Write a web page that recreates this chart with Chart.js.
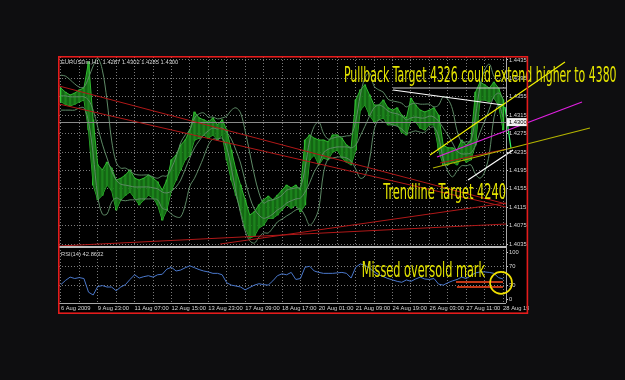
<!DOCTYPE html>
<html><head><meta charset="utf-8">
<script src="https://cdn.jsdelivr.net/npm/chart.js@4.4.0/dist/chart.umd.min.js"></script>
<style>
html,body{margin:0;padding:0;background:#0e0e10;width:625px;height:380px;overflow:hidden}
#wrap{position:relative;width:625px;height:380px}
canvas{position:absolute;left:0;top:0}
</style></head><body>
<div id="wrap">
<canvas id="main" width="625" height="380" style="width:625px;height:380px"></canvas>
<canvas id="rsiC" width="529" height="380" style="width:529px;height:380px"></canvas>
</div>
<script>
// ---------- DATA ----------
const symbolTitle = 'EURUSDm,H1';
const lastBar = [1.4287, 1.4302, 1.4285, 1.4300]; // O H L C
const rsiTitle = 'RSI(14)';
const rsiLast = 42.8632;
const STEP = 4; // H1 bars per sample
const timeLabels = ['6 Aug 2009','9 Aug 23:00','11 Aug 07:00','12 Aug 15:00','13 Aug 23:00','17 Aug 09:00','18 Aug 17:00','20 Aug 01:00','21 Aug 09:00','24 Aug 19:00','26 Aug 03:00','27 Aug 11:00','28 Aug 19:00'];
const priceTicks = [1.4035,1.4075,1.4115,1.4155,1.4195,1.4235,1.4275,1.4315,1.4355,1.4395,1.4435];
const rsiTicks = [0,30,70,100];

const barHigh = [
1.4374,1.4365,1.4359,1.4363,1.4370,1.4374,1.4431,1.4305,1.4207,1.4196,
1.4213,1.4200,1.4174,1.4178,1.4185,1.4196,1.4178,1.4174,1.4178,1.4185,
1.4178,1.4170,1.4152,1.4174,1.4218,1.4228,1.4250,1.4261,1.4283,1.4322,
1.4309,1.4305,1.4300,1.4309,1.4294,1.4305,1.4283,1.4239,1.4196,1.4163,
1.4131,1.4098,1.4105,1.4120,1.4131,1.4139,1.4131,1.4141,1.4152,1.4163,
1.4157,1.4163,1.4152,1.4261,1.4272,1.4265,1.4261,1.4261,1.4257,1.4272,
1.4272,1.4265,1.4250,1.4244,1.4348,1.4370,1.4381,1.4359,1.4337,1.4337,
1.4348,1.4331,1.4326,1.4331,1.4315,1.4309,1.4352,1.4337,1.4326,1.4322,
1.4326,1.4331,1.4315,1.4250,1.4244,1.4244,1.4239,1.4261,1.4250,1.4261,
1.4365,1.4387,1.4381,1.4374,1.4387,1.4374,1.4348];
const barLow = [
1.4344,1.4339,1.4335,1.4339,1.4344,1.4348,1.4283,1.4163,1.4131,1.4141,
1.4163,1.4152,1.4109,1.4131,1.4141,1.4148,1.4135,1.4120,1.4131,1.4141,
1.4135,1.4120,1.4087,1.4109,1.4152,1.4174,1.4196,1.4218,1.4228,1.4261,
1.4265,1.4272,1.4265,1.4272,1.4261,1.4272,1.4218,1.4174,1.4141,1.4109,
1.4070,1.4048,1.4052,1.4070,1.4076,1.4091,1.4091,1.4098,1.4109,1.4120,
1.4113,1.4120,1.4105,1.4120,1.4218,1.4228,1.4207,1.4222,1.4218,1.4235,
1.4239,1.4222,1.4213,1.4207,1.4239,1.4326,1.4337,1.4315,1.4300,1.4305,
1.4309,1.4294,1.4294,1.4294,1.4278,1.4272,1.4305,1.4300,1.4287,1.4283,
1.4294,1.4294,1.4239,1.4207,1.4207,1.4213,1.4207,1.4222,1.4213,1.4218,
1.4250,1.4348,1.4348,1.4344,1.4352,1.4337,1.4283];
const bbUpper = [
1.4402,1.4400,1.4392,1.4383,1.4376,1.4376,1.4396,1.4422,1.4439,1.4413,
1.4348,1.4261,1.4213,1.4200,1.4200,1.4194,1.4187,1.4185,1.4185,1.4185,
1.4181,1.4178,1.4183,1.4183,1.4200,1.4224,1.4255,1.4272,1.4283,1.4309,
1.4318,1.4320,1.4311,1.4311,1.4307,1.4309,1.4313,1.4326,1.4331,1.4320,
1.4281,1.4233,1.4185,1.4146,1.4124,1.4129,1.4131,1.4135,1.4141,1.4152,
1.4155,1.4157,1.4159,1.4200,1.4259,1.4291,1.4300,1.4276,1.4263,1.4265,
1.4268,1.4268,1.4270,1.4272,1.4302,1.4359,1.4396,1.4407,1.4378,1.4370,
1.4365,1.4350,1.4346,1.4344,1.4341,1.4333,1.4339,1.4341,1.4339,1.4339,
1.4339,1.4333,1.4337,1.4355,1.4350,1.4328,1.4281,1.4257,1.4257,1.4259,
1.4313,1.4378,1.4413,1.4426,1.4400,1.4389,1.4394];
const bbMiddle = [
1.4357,1.4357,1.4355,1.4355,1.4355,1.4355,1.4348,1.4326,1.4289,1.4252,
1.4222,1.4194,1.4174,1.4165,1.4163,1.4161,1.4159,1.4159,1.4159,1.4159,
1.4157,1.4155,1.4148,1.4146,1.4150,1.4159,1.4174,1.4198,1.4222,1.4244,
1.4259,1.4272,1.4281,1.4287,1.4285,1.4287,1.4278,1.4263,1.4239,1.4211,
1.4172,1.4137,1.4111,1.4098,1.4091,1.4094,1.4100,1.4109,1.4115,1.4124,
1.4129,1.4133,1.4135,1.4148,1.4168,1.4192,1.4209,1.4233,1.4241,1.4244,
1.4246,1.4246,1.4246,1.4244,1.4250,1.4270,1.4291,1.4313,1.4331,1.4337,
1.4333,1.4324,1.4320,1.4318,1.4313,1.4305,1.4309,1.4311,1.4309,1.4309,
1.4313,1.4311,1.4302,1.4287,1.4272,1.4255,1.4237,1.4231,1.4231,1.4233,
1.4250,1.4278,1.4302,1.4328,1.4355,1.4363,1.4352];
const bbLower = [
1.4326,1.4326,1.4326,1.4326,1.4331,1.4331,1.4300,1.4231,1.4139,1.4100,
1.4100,1.4126,1.4135,1.4131,1.4129,1.4131,1.4131,1.4133,1.4133,1.4133,
1.4133,1.4131,1.4113,1.4109,1.4100,1.4094,1.4094,1.4120,1.4161,1.4178,
1.4200,1.4224,1.4250,1.4263,1.4263,1.4265,1.4244,1.4200,1.4148,1.4102,
1.4063,1.4042,1.4037,1.4050,1.4059,1.4059,1.4070,1.4083,1.4089,1.4096,
1.4102,1.4109,1.4111,1.4096,1.4076,1.4087,1.4113,1.4189,1.4220,1.4222,
1.4224,1.4224,1.4222,1.4215,1.4198,1.4178,1.4183,1.4218,1.4283,1.4305,
1.4300,1.4298,1.4294,1.4291,1.4285,1.4276,1.4278,1.4281,1.4278,1.4278,
1.4287,1.4289,1.4268,1.4220,1.4194,1.4181,1.4194,1.4205,1.4205,1.4207,
1.4187,1.4178,1.4192,1.4231,1.4309,1.4337,1.4311];
const rsiValues = [
31,40,47,44,46,44,15,9,27,29,
26,26,18,26,31,42,52,45,48,50,
47,52,53,64,68,60,62,67,71,67,
63,60,58,55,55,52,35,30,28,26,
20,25,30,33,31,30,39,50,54,52,
57,42,44,68,70,60,57,55,55,55,
56,57,55,45,68,75,72,66,58,52,
48,44,41,38,36,41,38,43,47,43,
42,44,32,30,35,39,42,47,44,50,
56,58,58,57,55,46,42.86];

// annotation objects, in [bar, price] / [bar, rsi]
const redTrendLines = [
  [-1.6, 1.43785, 386.5, 1.41220],
  [-1.6, 1.43393, 386.5, 1.41154],
  [138.3, 1.40350, 386.5, 1.41241],
  [-1.6, 1.40307, 386.5, 1.40785],
  [329.2, 1.42111, 387.4, 1.42415]
];
const whiteLines = [[288.4,1.43698,383.9,1.43372],[353.5,1.41741,392.6,1.42393]];
const levelLine = [288.4, 1.43741, 386.5, 1.43741];
const yellowLine = [320.5,1.42285,437.7,1.44307];
const oliveLine = [323.1,1.42002,459.4,1.42872];
const magentaLine = [326.6,1.42241,452.5,1.43437];
const greenLine = [385.6,1.43328,390.8,1.42437];
const oversoldLines = [[343.1,36.8,383.9,36.8],[343.9,26.2,383.9,26.2]];
const oversoldCircle = [382.2, 34.7];
const priceNotes = [
  {text:'Pullback Target 4326 could extend higher to 4380', from:245.8, to:482.5, at:1.43872},
  {text:'Trendline Target 4240', from:280.0, to:386.5, at:1.41322}
];
const rsiNote = {text:'Missed oversold mark', from:261.2, to:368.3, at:48.1};

// ---------- STYLE ----------
const X_MIN = -1.65, X_MAX = 386.5;
const P_MIN = 1.40307, P_MAX = 1.44415;
const TICK_FONT = "'Liberation Sans','DejaVu Sans',sans-serif";
const NOTE_FONT = "'Liberation Sans Narrow','DejaVu Sans Condensed','Liberation Sans',sans-serif";
const GRID = '#7a7a7a';
const LBL = '#d6d6d6';
const BB_COLOR = '#5e8a66';
const gridTicks = []; for (let v = 0; v <= 384; v += 16) gridTicks.push(v);
const toXY = arr => arr.map((v, k) => ({x: k * STEP, y: v}));
const toRange = (lo, hi) => lo.map((v, k) => ({x: k * STEP, y: [v, hi[k]]}));

function seg(ctx, sx, sy, a, color, width) {
  ctx.save(); ctx.strokeStyle = color; ctx.lineWidth = width;
  ctx.beginPath();
  ctx.moveTo(sx.getPixelForValue(a[0]), sy.getPixelForValue(a[1]));
  ctx.lineTo(sx.getPixelForValue(a[2]), sy.getPixelForValue(a[3]));
  ctx.stroke(); ctx.restore();
}
function fitText(ctx, text, x1, x2, yBase, size, color) {
  ctx.save();
  ctx.font = size + 'px ' + NOTE_FONT;
  const w = ctx.measureText(text).width;
  ctx.translate(x1, yBase);
  ctx.scale((x2 - x1) / w, 1);
  ctx.fillStyle = color; ctx.textBaseline = 'alphabetic'; ctx.textAlign = 'left';
  ctx.fillText(text, 0, 0);
  ctx.restore();
}

const mainPlugin = {
  id: 'mainAnno',
  beforeDraw(chart) {
    const c = chart.ctx; c.save(); c.fillStyle = '#000'; c.fillRect(58, 56, 470, 258); c.restore();
  },
  afterDatasetsDraw(chart) {
    const c = chart.ctx, sx = chart.scales.x, sy = chart.scales.y, a = chart.chartArea;
    c.save(); c.strokeStyle = '#8a8a8a'; c.lineWidth = 1;
    const yb = Math.round(sy.getPixelForValue(lastBar[3])) + 0.5;
    c.beginPath(); c.moveTo(a.left, yb); c.lineTo(a.right, yb); c.stroke(); c.restore();
    redTrendLines.forEach(l => seg(c, sx, sy, l, '#b01818', 1));
    seg(c, sx, sy, levelLine, '#cfcfcf', 1);
    whiteLines.forEach(l => seg(c, sx, sy, l, '#ffffff', 1.2));
    seg(c, sx, sy, greenLine, '#30f060', 1.3);
  },
  afterDraw(chart) {
    const c = chart.ctx, sx = chart.scales.x, sy = chart.scales.y, a = chart.chartArea;
    seg(c, sx, sy, yellowLine, '#f2f200', 1.2);
    seg(c, sx, sy, oliveLine, '#b4b400', 1.2);
    seg(c, sx, sy, magentaLine, '#e020e0', 1.2);
    const yb = sy.getPixelForValue(lastBar[3]);
    c.save(); c.fillStyle = '#f0f0f0'; c.fillRect(a.right + 1, yb - 4, 20, 8);
    c.fillStyle = '#000'; c.font = '5.8px ' + TICK_FONT; c.textBaseline = 'middle'; c.textAlign = 'left';
    c.fillText(lastBar[3].toFixed(4), a.right + 3, yb);
    c.fillStyle = LBL; c.font = '5.8px ' + TICK_FONT;
    c.fillText(symbolTitle + '  ' + lastBar.map(v => v.toFixed(4)).join(' '), a.left + 2, a.top + 5);
    c.restore();
    priceNotes.forEach(n => fitText(c, n.text, sx.getPixelForValue(n.from), sx.getPixelForValue(n.to), sy.getPixelForValue(n.at), 21, '#e4e400'));
  }
};

const rsiPlugin = {
  id: 'rsiAnno',
  afterDraw(chart) {
    const c = chart.ctx, sx = chart.scales.x, sy = chart.scales.y, a = chart.chartArea;
    c.save();
    c.fillStyle = '#bdbdbd'; c.fillRect(a.left, a.top - 1, a.right - a.left, 2);
    c.strokeStyle = '#a8a8a8'; c.lineWidth = 1;
    c.beginPath(); c.moveTo(a.right + 0.5, 57); c.lineTo(a.right + 0.5, a.bottom); c.stroke();
    c.beginPath(); c.moveTo(a.left, a.bottom + 0.5); c.lineTo(a.right, a.bottom + 0.5); c.stroke();
    c.fillStyle = LBL; c.font = '5.8px ' + TICK_FONT; c.textBaseline = 'middle'; c.textAlign = 'left';
    c.fillText(rsiTitle + ' ' + rsiLast.toFixed(4), a.left + 2, a.top + 7);
    c.restore();
    oversoldLines.forEach(l => seg(c, sx, sy, l, '#ff4a1e', 1.5));
    c.save(); c.strokeStyle = '#f0e000'; c.lineWidth = 1.6;
    c.beginPath(); c.arc(sx.getPixelForValue(oversoldCircle[0]), sy.getPixelForValue(oversoldCircle[1]), 11, 0, Math.PI * 2); c.stroke(); c.restore();
    fitText(c, rsiNote.text, sx.getPixelForValue(rsiNote.from), sx.getPixelForValue(rsiNote.to), sy.getPixelForValue(rsiNote.at), 21, '#e4e400');
    c.save(); c.strokeStyle = '#e41c1c'; c.lineWidth = 1.6;
    c.strokeRect(58.8, 56.8, 468.6, 256.4); c.restore();
  }
};

const lineDs = (data, color, extra) => Object.assign({data, borderColor: color, borderWidth: 1, pointRadius: 0, fill: false, tension: 0}, extra || {});

new Chart(document.getElementById('main'), {
  type: 'line',
  data: { datasets: [
    lineDs(toXY(bbUpper), BB_COLOR, {tension: 0.35}),
    lineDs(toXY(bbMiddle), BB_COLOR, {tension: 0.35}),
    lineDs(toXY(bbLower), BB_COLOR, {tension: 0.35}),
    lineDs(toXY(barHigh), '#2fb82f', {fill: '+1', backgroundColor: 'rgba(24,120,24,0.85)'}),
    lineDs(toXY(barLow), '#2fb82f'),
    {type: 'bar', data: toRange(barLow, barHigh), backgroundColor: '#38c838', barThickness: 1.6, grouped: false}
  ]},
  options: {
    responsive: false, animation: false, devicePixelRatio: 1,
    layout: {padding: {left: 59, top: 57, right: 97, bottom: 134}},
    plugins: {legend: {display: false}, tooltip: {enabled: false}},
    scales: {
      x: {type: 'linear', min: X_MIN, max: X_MAX, offset: false,
        afterBuildTicks: s => { s.ticks = gridTicks.map(v => ({value: v})); },
        ticks: {display: false}, grid: {color: GRID, drawTicks: false, offset: false},
        border: {display: false, dash: [1, 2]},
        afterFit: s => { s.height = 0; s.paddingLeft = 0; s.paddingRight = 0; }},
      y: {position: 'right', min: P_MIN, max: P_MAX,
        afterBuildTicks: s => { s.ticks = priceTicks.map(v => ({value: v})); },
        ticks: {color: LBL, font: {family: TICK_FONT, size: 5.8}, padding: 1, callback: v => Number(v).toFixed(4)},
        grid: {color: GRID, tickLength: 2, tickColor: '#cfcfcf'},
        border: {display: false, dash: [1, 2]},
        afterFit: s => { s.width = 22; s.paddingTop = 0; s.paddingBottom = 0; }}
    }
  },
  plugins: [mainPlugin]
});

new Chart(document.getElementById('rsiC'), {
  type: 'line',
  data: { datasets: [ lineDs(toXY(rsiValues), '#4a78cc') ]},
  options: {
    responsive: false, animation: false, devicePixelRatio: 1,
    layout: {padding: {left: 59, top: 247, right: 1, bottom: 65}},
    plugins: {legend: {display: false}, tooltip: {enabled: false}},
    scales: {
      x: {type: 'linear', min: X_MIN, max: X_MAX,
        afterBuildTicks: s => { s.ticks = gridTicks.map(v => ({value: v})); },
        ticks: {color: LBL, font: {family: TICK_FONT, size: 5.8}, padding: 2, autoSkip: false, maxRotation: 0, minRotation: 0, align: 'start',
          callback: v => (v % 32 === 0 ? timeLabels[v / 32] : '')},
        grid: {color: GRID, drawTicks: false},
        border: {display: false, dash: [1, 2]},
        afterFit: s => { s.height = 12; s.paddingLeft = 0; s.paddingRight = 0; }},
      y: {position: 'right', min: -8, max: 111,
        afterBuildTicks: s => { s.ticks = rsiTicks.map(v => ({value: v})); },
        ticks: {color: LBL, font: {family: TICK_FONT, size: 5.8}, padding: 1},
        grid: {color: ctx => (ctx.tick && (ctx.tick.value === 30 || ctx.tick.value === 70)) ? GRID : 'rgba(0,0,0,0)', tickLength: 2, tickColor: '#cfcfcf'},
        border: {display: false, dash: [1, 2]},
        afterFit: s => { s.width = 22; s.paddingTop = 0; s.paddingBottom = 0; }}
    }
  },
  plugins: [rsiPlugin]
});
</script>
</body></html>
